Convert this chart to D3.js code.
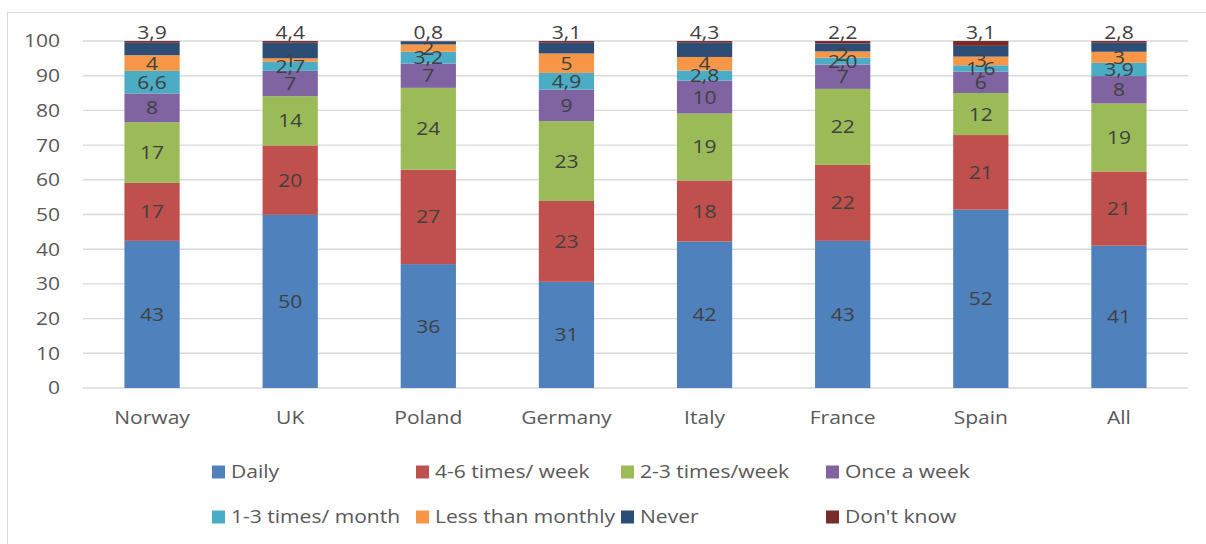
<!DOCTYPE html>
<html>
<head>
<meta charset="utf-8">
<script src="https://cdn.jsdelivr.net/npm/d3@7"></script>
<style>
  html, body { margin: 0; padding: 0; background: #fff; }
  svg { display: block; }
  text { font-family: "Open Sans", sans-serif; }
</style>
</head>
<body>
<svg id="chart" width="1206" height="544"></svg>
<script>
// ---- data (bar extents) ----
const categories = ["Norway", "UK", "Poland", "Germany", "Italy", "France", "Spain", "All"];
const seriesNames = ["Daily", "4-6 times/ week", "2-3 times/week", "Once a week",
                     "1-3 times/ month", "Less than monthly", "Never", "Don't know"];
const daily       = [42.4, 49.9, 35.7, 30.6, 42.2, 42.4, 51.4, 41.0];
const times46     = [16.7, 20.0, 27.2, 23.3, 17.6, 21.9, 21.5, 21.4];
const times23     = [17.5, 14.2, 23.6, 23.0, 19.3, 21.9, 12.1, 19.6];
const onceWeek    = [8.3, 7.3, 7.0, 9.1, 9.5, 7.0, 6.2, 7.9];
const month13     = [6.5, 2.6, 3.4, 4.8, 2.9, 2.0, 1.8, 3.8];
const lessMonthly = [4.5, 1.0, 2.1, 5.6, 3.9, 1.8, 2.5, 3.2];
const never       = [3.6, 4.5, 0.9, 3.1, 4.1, 2.3, 3.1, 2.6];
const dontKnow    = [0.5, 0.5, 0.1, 0.5, 0.5, 0.7, 1.4, 0.5];

// ---- data labels as printed on the chart ----
const dailyLabels       = ["43", "50", "36", "31", "42", "43", "52", "41"];
const times46Labels     = ["17", "20", "27", "23", "18", "22", "21", "21"];
const times23Labels     = ["17", "14", "24", "23", "19", "22", "12", "19"];
const onceWeekLabels    = ["8", "7", "7", "9", "10", "7", "6", "8"];
const month13Labels     = ["6,6", "2,7", "3,2", "4,9", "2,8", "2,0", "1,6", "3,9"];
const lessMonthlyLabels = ["4", "1", "2", "5", "4", "2", "3", "3"];
const neverLabels       = ["3,9", "4,4", "0,8", "3,1", "4,3", "2,2", "3,1", "2,8"];
const yTicks            = [0, 10, 20, 30, 40, 50, 60, 70, 80, 90, 100];

const seriesValues = [daily, times46, times23, onceWeek, month13, lessMonthly, never, dontKnow];
const seriesLabels = [dailyLabels, times46Labels, times23Labels, onceWeekLabels,
                      month13Labels, lessMonthlyLabels, neverLabels, null];
const colors = ["#4f81bd", "#c0504d", "#9bbb59", "#8064a2", "#4bacc6", "#f79646", "#2c4d75", "#772c2a"];

// ---- layout ----
const svg = d3.select("#chart");
const SX = 1.17; // horizontal stretch of the text
const plotLeft = 83, plotRight = 1188, plotTop = 41, plotBottom = 388;

svg.append("rect").attr("x", 7.5).attr("y", 12.5).attr("width", 1220).attr("height", 560)
  .attr("fill", "none").attr("stroke", "#d9d9d9").attr("stroke-width", 1);

const x = d3.scaleBand().domain(categories).range([plotLeft, plotRight]).paddingInner(0.6).paddingOuter(0.3);
const y = d3.scaleLinear().domain([0, 100]).range([plotBottom, plotTop]);

const table = categories.map((c, i) => {
  const row = { cat: c };
  seriesNames.forEach((s, j) => row[s] = seriesValues[j][i]);
  return row;
});
const stack = d3.stack().keys(seriesNames)(table);

// gridlines
svg.append("g").selectAll("line").data(yTicks).join("line")
  .attr("x1", plotLeft).attr("x2", plotRight)
  .attr("y1", d => y(d)).attr("y2", d => y(d))
  .attr("stroke", "#d9d9d9").attr("stroke-width", 1.4);

// y tick labels
svg.append("g").selectAll("text").data(yTicks).join("text")
  .attr("transform", d => `translate(60,${y(d)}) scale(${SX},1)`)
  .attr("dy", "0.36em")
  .attr("text-anchor", "end")
  .attr("font-size", 18)
  .attr("fill", "#595959")
  .text(d => d);

// bars
const layers = svg.append("g").selectAll("g").data(stack).join("g")
  .attr("fill", (d, i) => colors[i]);
layers.selectAll("rect").data(d => d).join("rect")
  .attr("x", d => x(d.data.cat))
  .attr("width", x.bandwidth())
  .attr("y", d => y(d[1]))
  .attr("height", d => Math.max(0, y(d[0]) - y(d[1])));

// category labels
svg.append("g").selectAll("text").data(categories).join("text")
  .attr("transform", d => `translate(${x(d) + x.bandwidth() / 2},418) scale(${SX},1)`)
  .attr("dy", "0.36em")
  .attr("text-anchor", "middle")
  .attr("font-size", 18)
  .attr("fill", "#595959")
  .text(d => d);

// data labels
const lbl = svg.append("g");
stack.forEach((layer, si) => {
  const labels = seriesLabels[si];
  if (!labels) return;
  layer.forEach((d, ci) => {
    const cx = x(d.data.cat) + x.bandwidth() / 2;
    const cy = seriesNames[si] === "Never" ? y(100) - 8 : (y(d[0]) + y(d[1])) / 2;
    lbl.append("text")
      .attr("transform", `translate(${cx},${cy}) scale(${SX},1)`)
      .attr("dy", "0.36em")
      .attr("text-anchor", "middle")
      .attr("font-size", 18)
      .attr("fill", "#404040")
      .text(labels[ci]);
  });
});

// legend
const legX = [212, 416, 621, 826];
const legY = [472, 517];
const leg = svg.append("g");
seriesNames.forEach((s, i) => {
  const lx = legX[i % 4], ly = legY[Math.floor(i / 4)];
  leg.append("rect").attr("x", lx).attr("y", ly - 6.5).attr("width", 13).attr("height", 13)
    .attr("fill", colors[i]);
  leg.append("text")
    .attr("transform", `translate(${lx + 19},${ly}) scale(${SX},1)`)
    .attr("dy", "0.36em")
    .attr("font-size", 18)
    .attr("fill", "#595959")
    .text(s);
});
</script>
</body>
</html>
